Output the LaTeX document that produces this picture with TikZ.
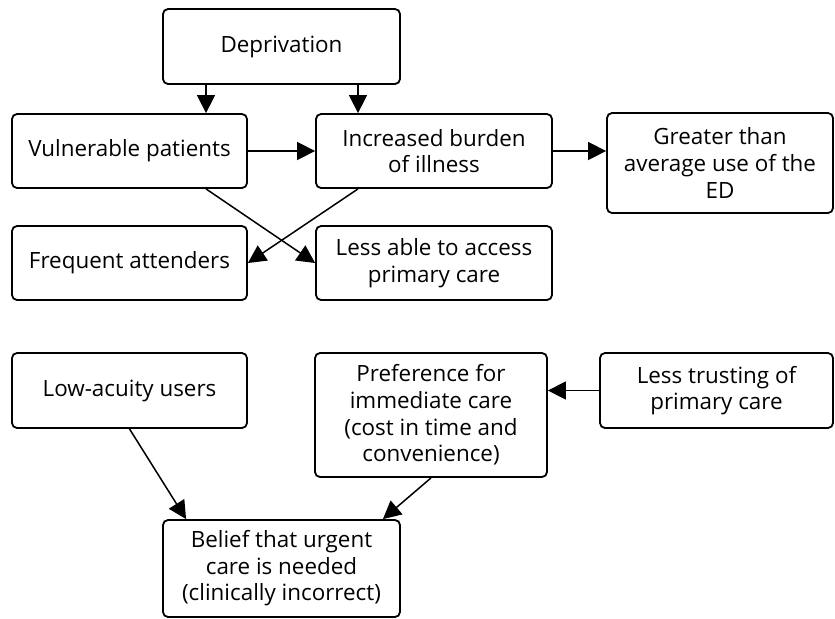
\documentclass[tikz,border=0pt]{standalone}
\usepackage{fontspec}
\setmainfont{Open Sans}
\usetikzlibrary{arrows.meta,calc}
\tikzset{
    box/.style={draw, rounded corners=2.5pt, line width=0.9pt, align=center, inner sep=0pt,
        font=\fontsize{11.2}{13.3}\selectfont},
    arr/.style={line width=0.75pt, -{Triangle[length=9pt, width=9pt]}}
}
\begin{document}
\begin{tikzpicture}[x=0.5pt, y=-0.5pt]
    \useasboundingbox (0,0) rectangle (835,618);

    \node (dep) at (281.5, 46.5) [box, minimum width=118.5pt, minimum height=37.5pt] {Deprivation};
    \node (vul) at (129.5, 151) [box, minimum width=117.5pt, minimum height=37pt] {Vulnerable patients};
    \node (inc) at (434, 151) [box, minimum width=118pt, minimum height=37pt] {Increased burden\\of illness};
    \node (ed) at (720, 163) [box, minimum width=113pt, minimum height=50pt] {Greater than\\average use of the\\ED};
    \node (freq) at (129.5, 263) [box, minimum width=117.5pt, minimum height=37pt] {Frequent attenders};
    \node (less) at (434, 263) [box, minimum width=118pt, minimum height=37pt] {Less able to access\\primary care};

    \node (low) at (129.5, 390.5) [box, minimum width=117.5pt, minimum height=37.5pt] {Low-acuity users};
    \node (pref) at (431, 415) [box, minimum width=116pt, minimum height=62pt] {Preference for\\immediate care\\(cost in time and\\convenience)};
    \node (trust) at (716.5, 390.5) [box, minimum width=116.5pt, minimum height=37.5pt] {Less trusting of\\primary care};
    \node (bel) at (281.5, 568.5) [box, minimum width=118.5pt, minimum height=48.5pt] {Belief that urgent\\care is needed\\(clinically incorrect)};

    \coordinate (d1) at ($(dep.south)+(-75.5,0)$);
    \coordinate (d2) at ($(dep.south)+(76.5,0)$);
    \coordinate (v1) at ($(vul.south)+(76.5,0)$);
    \coordinate (i1) at ($(inc.south)+(-76,0)$);
    \coordinate (b1) at ($(bel.north west)+(24,0)$);
    \coordinate (b2) at ($(bel.north east)+(-18,0)$);

    \draw[arr] (d1) -- (d1 |- vul.north);
    \draw[arr] (d2) -- (d2 |- inc.north);
    \draw[arr] (vul.east) -- (inc.west);
    \draw[arr] (inc.east) -- (inc.east -| ed.west);
    \draw[arr] (v1) -- (less.west);
    \draw[arr] (i1) -- (freq.east);

    \draw[arr] (trust.west) -- (trust.west -| pref.east);
    \draw[arr] (low.south) -- (b1);
    \draw[arr] (pref.south) -- (b2);
\end{tikzpicture}
\end{document}
